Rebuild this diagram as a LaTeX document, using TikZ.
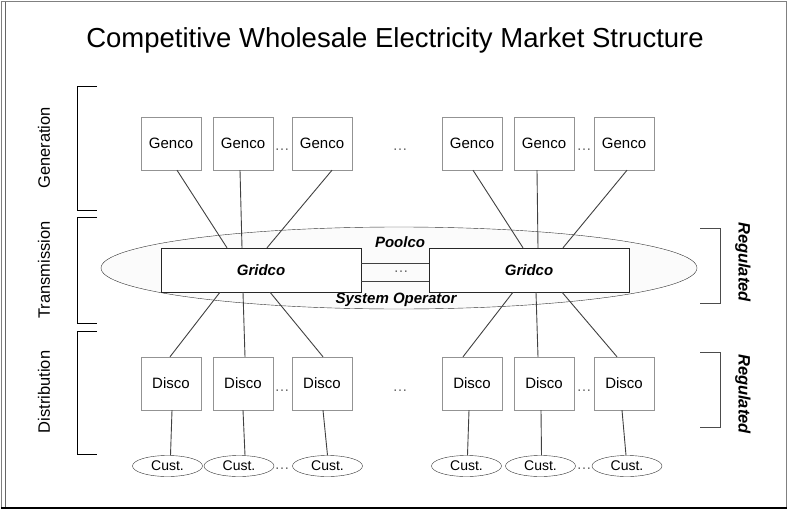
\documentclass[tikz,border=0pt]{standalone}
\usepackage{fontspec}
\setmainfont{Liberation Sans}
\usetikzlibrary{shapes.geometric}
\tikzset{
  unit/.style={draw=gray!85,fill=white,minimum width=60,minimum height=53,inner sep=0pt,font=\fontsize{15}{18}\selectfont},
  grid/.style={draw=black!85,fill=white,minimum width=200,minimum height=44,inner sep=0pt,font=\fontsize{15}{18}\selectfont\bfseries\itshape},
  cust/.style={ellipse,draw=black!80,fill=white,minimum width=70,minimum height=21,inner sep=0pt,font=\fontsize{14}{16}\selectfont},
  conn/.style={draw=black!75,line width=0.9pt},
  brk/.style={line width=1pt},
  dots/.style={text=black!60,inner sep=0pt,font=\fontsize{15}{17}\selectfont},
  side/.style={rotate=90,font=\fontsize{16.5}{19}\selectfont},
  reg/.style={rotate=-90,font=\fontsize{16.5}{19}\selectfont\bfseries\itshape}
}
\begin{document}
\begin{tikzpicture}[x=1pt,y=-1pt]
  \useasboundingbox (0,0) rectangle (790,511);
  % frame
  \draw[gray,line width=1pt] (1.5,2) rectangle (786.5,507.5);
  \draw[gray!80!black,line width=1pt] (5,2) -- (5,507.5);
  \draw[black,line width=2pt] (1,508) -- (787,508);
  \node[font=\fontsize{27.5}{32}\selectfont] (title) at (395,40) {Competitive Wholesale Electricity Market Structure};
  % sector brackets on the left
  \draw[brk] (97,87) -- (77,87) -- (77,210) -- (97,210);
  \draw[brk] (97,217) -- (77,217) -- (77,323) -- (97,323);
  \draw[brk] (97,331) -- (77,331) -- (77,454) -- (97,454);
  \node[side] (gen) at (44,148) {Generation};
  \node[side] (trans) at (44,270) {Transmission};
  \node[side] (dist) at (44,392) {Distribution};
  % regulated brackets on the right
  \draw[brk,black!70] (700,228) -- (720,228) -- (720,303) -- (700,303);
  \draw[brk,black!70] (700,352) -- (720,352) -- (720,427) -- (700,427);
  \node[reg] (regT) at (743,262) {Regulated};
  \node[reg] (regD) at (743,394) {Regulated};
  % pool and grid companies
  \node[ellipse,draw=black!80,fill=gray!3,minimum width=596,minimum height=82,inner sep=0pt] (pool) at (399,268) {};
  \node[font=\fontsize{15}{18}\selectfont\bfseries\itshape] (poolco) at (400,242) {Poolco};
  \node[font=\fontsize{15}{18}\selectfont\bfseries\itshape] (sysop) at (396,300) {System Operator};
  \node[grid] (grL) at (261,270) {Gridco};
  \node[grid] (grR) at (529,270) {Gridco};
  \draw[conn] ([yshift=7]grL.east) -- ([yshift=7]grR.west);
  \draw[conn] ([yshift=-11]grL.east) -- ([yshift=-11]grR.west);
  \node[dots] (dgr) at (401,272) {\dots};
  % gencos and discos
  \foreach \i/\x in {1/171,2/243,3/322,4/472,5/544,6/624} {
    \node[unit] (g\i) at (\x,143.5) {Genco};
    \node[unit] (d\i) at (\x,383.5) {Disco};
  }
  \foreach \i/\x in {1/167.5,2/239,3/327.5,4/466.5,5/540.5,6/627}
    \node[cust] (c\i) at (\x,466) {Cust.};
  \node[dots] (dg1) at (282,150) {\dots};
  \node[dots] (dg2) at (400,150) {\dots};
  \node[dots] (dg3) at (584,150) {\dots};
  \node[dots] (dd1) at (282,391) {\dots};
  \node[dots] (dd2) at (400,391) {\dots};
  \node[dots] (dd3) at (584,391) {\dots};
  \node[dots] (dc1) at (282,469) {\dots};
  \node[dots] (dc2) at (584,469) {\dots};
  % gencos to gridcos
  \foreach \i/\a/\b in {1/6/-34,2/-3/-19,3/10/6}
    \draw[conn] ([xshift=\a]g\i.south) -- ([xshift=\b]grL.north);
  \foreach \i/\a/\b in {4/1/-6,5/-7/9,6/3/34}
    \draw[conn] ([xshift=\a]g\i.south) -- ([xshift=\b]grR.north);
  % gridcos to discos
  \foreach \i/\a/\b in {1/-41/-1,2/-18/2,3/9/1}
    \draw[conn] ([xshift=\a]grL.south) -- ([xshift=\b]d\i.north);
  \foreach \i/\a/\b in {4/-16/-9,5/7/-6,6/33/-7}
    \draw[conn] ([xshift=\a]grR.south) -- ([xshift=\b]d\i.north);
  % discos to customers
  \foreach \i/\a/\b in {1/1/3,2/0/6,3/1/0,4/-3/1,5/-3/1,6/-2/-1}
    \draw[conn] ([xshift=\a]d\i.south) -- ([xshift=\b]c\i.north);
\end{tikzpicture}
\end{document}
